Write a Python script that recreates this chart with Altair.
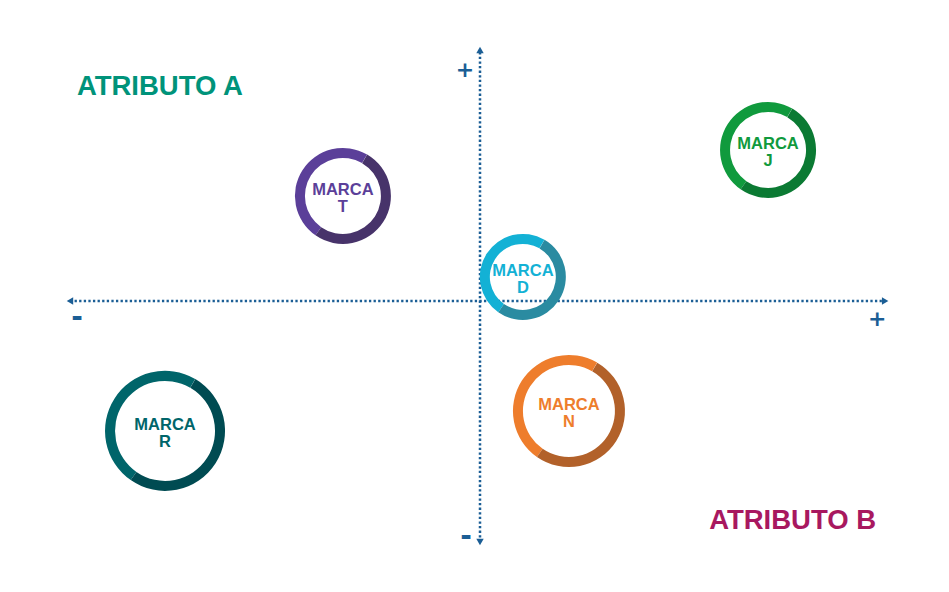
import altair as alt
import pandas as pd

# ---- data ----
brands = ["T", "J", "D", "N", "R"]
attr_b = [-3.36, 7.06, 1.05, 2.18, -7.72]   # horizontal (Atributo B)
attr_a = [4.27, 6.14, 0.98, -4.47, -5.28]   # vertical (Atributo A)
bubble = [48, 48, 43, 56, 60]               # bubble size
light_colors = ["#5b3f99", "#109a3d", "#13b1d5", "#ee7d2c", "#00656a"]
dark_colors = ["#47336a", "#0b7a33", "#2a8ba1", "#b2612a", "#004b52"]

x_ends = [-10.05, 9.93]
y_ends = [-9.8, 10.2]

AXIS_COLOR = "#1b5e95"
FONT = "Liberation Sans"

df = pd.DataFrame({"brand": brands, "x": attr_b, "y": attr_a, "size": bubble})
df["inner"] = df["size"] - 10
df["label"] = ["MARCA\n" + b for b in brands]

xs = alt.Scale(domain=[-10, 10], range=[64, 880])
ys = alt.Scale(domain=[-10, 10], range=[539, 47])
rs = alt.Scale(type="linear", domain=[0, 60], range=[0, 60], zero=True)

X = lambda f: alt.X(f, type="quantitative", scale=xs, axis=None)
Y = lambda f: alt.Y(f, type="quantitative", scale=ys, axis=None)

# axes
h_axis = alt.Chart(pd.DataFrame({"x": [x_ends[0]], "x2": [x_ends[1]], "y": [0]})).mark_rule(
    color=AXIS_COLOR, strokeWidth=2.5, strokeDash=[2.3, 2.3]
).encode(x=X("x"), x2="x2", y=Y("y"))
v_axis = alt.Chart(pd.DataFrame({"x": [0], "y": [y_ends[0]], "y2": [y_ends[1]]})).mark_rule(
    color=AXIS_COLOR, strokeWidth=2.5, strokeDash=[2.3, 2.3]
).encode(x=X("x"), y=Y("y"), y2="y2")

arrows_df = pd.DataFrame({
    "x": [x_ends[0], x_ends[1], 0, 0],
    "y": [0, 0, y_ends[1], y_ends[0]],
    "dir": ["left", "right", "up", "down"],
})
arrows = alt.Chart(arrows_df).mark_point(filled=True, opacity=1, color=AXIS_COLOR, size=55).encode(
    x=X("x"), y=Y("y"),
    shape=alt.Shape("dir:N", scale=alt.Scale(
        domain=["left", "right", "up", "down"],
        range=["triangle-left", "triangle-right", "triangle-up", "triangle-down"]), legend=None),
)

def sign(txt, x, y, dx, dy, size=22):
    return alt.Chart(pd.DataFrame({"x": [x], "y": [y], "t": [txt]})).mark_text(
        font="DejaVu Sans", fontWeight="bold", fontSize=size, color=AXIS_COLOR,
        dx=dx, dy=dy, align="center", baseline="middle"
    ).encode(x=X("x"), y=Y("y"), text="t:N")

signs = [
    sign("+", 0, y_ends[1], -15, 20),
    sign("+", x_ends[1], 0, -8, 18),
    sign("-", x_ends[0], 0, 7, 17, 28),
    sign("-", 0, y_ends[0], -14, -5, 28),
]

titles = alt.layer(
    alt.Chart(pd.DataFrame({"x": [-9.88], "y": [8.37], "t": ["ATRIBUTO A"]})).mark_text(
        font=FONT, fontWeight="bold", fontSize=27.5, color="#00937a", align="left", baseline="alphabetic"
    ).encode(x=X("x"), y=Y("y"), text="t:N"),
    alt.Chart(pd.DataFrame({"x": [9.71], "y": [-9.27], "t": ["ATRIBUTO B"]})).mark_text(
        font=FONT, fontWeight="bold", fontSize=27.5, color="#a8185f", align="right", baseline="alphabetic"
    ).encode(x=X("x"), y=Y("y"), text="t:N"),
)

base = alt.Chart(df)
ring_light = base.mark_arc(theta=3.75, theta2=6.81).encode(
    x=X("x"), y=Y("y"),
    radius=alt.Radius("size:Q", scale=rs), radius2="inner:Q",
    color=alt.Color("brand:N", scale=alt.Scale(domain=brands, range=light_colors), legend=None),
)
ring_dark = base.mark_arc(theta=0.53, theta2=3.75).encode(
    x=X("x"), y=Y("y"),
    radius=alt.Radius("size:Q", scale=rs), radius2="inner:Q",
    color=alt.Color("brand:N", scale=alt.Scale(domain=brands, range=dark_colors), legend=None),
)
labels = base.mark_text(
    font=FONT, fontWeight="bold", fontSize=16.5, lineHeight=17, lineBreak="\n",
    align="center", baseline="middle", dy=-6
).encode(
    x=X("x"), y=Y("y"), text="label:N",
    color=alt.Color("brand:N", scale=alt.Scale(domain=brands, range=light_colors), legend=None),
)

chart = alt.layer(
    h_axis, v_axis, arrows, *signs, titles, ring_light, ring_dark, labels
).resolve_scale(color="independent").properties(
    width=933, height=576, autosize="none", padding=0
).configure_view(stroke=None)

chart.save("out.html", embed_options={"renderer": "svg", "actions": False})
